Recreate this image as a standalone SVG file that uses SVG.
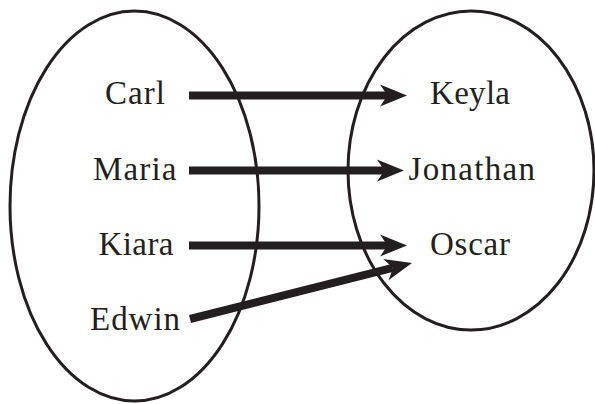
<svg xmlns="http://www.w3.org/2000/svg" width="595" height="404" viewBox="0 0 595 404">
  <style>
    .set { fill: none; stroke: #231f20; stroke-width: 3; }
    .name { font-family: "Liberation Serif", "Times New Roman", serif; font-size: 33px; fill: #231f20; }
    .map { fill: none; stroke: #231f20; stroke-width: 8; stroke-linecap: butt; marker-end: url(#head); }
  </style>
  <defs>
    <!-- arrowhead with a notched back; origin sits at the notch where the shaft ends -->
    <marker id="head" markerUnits="userSpaceOnUse" viewBox="-8 -12 30 24" refX="0" refY="0" markerWidth="30" markerHeight="24" orient="auto" overflow="visible">
      <path d="M20,0 L-7,-11 Q-2,-4 0,0 Q-2,4 -7,11 Z" fill="#231f20"/>
    </marker>
  </defs>
  <rect width="595" height="404" fill="#ffffff"/>

  <!-- domain set -->
  <g id="domain">
    <ellipse class="set" cx="134.5" cy="206" rx="124.5" ry="195"/>
  </g>
  <!-- codomain set -->
  <g id="codomain">
    <ellipse class="set" cx="471" cy="170.5" rx="123" ry="159.5"/>
  </g>

  <g id="carl"><text class="name" x="105" y="104" textLength="60" lengthAdjust="spacing">Carl</text></g>
  <g id="maria"><text class="name" x="93" y="179.5" textLength="83.5" lengthAdjust="spacing">Maria</text></g>
  <g id="kiara"><text class="name" x="98.5" y="254.5" textLength="75" lengthAdjust="spacing">Kiara</text></g>
  <g id="edwin"><text class="name" x="90" y="330" textLength="90" lengthAdjust="spacing">Edwin</text></g>

  <g id="keyla"><text class="name" x="430" y="103.5" textLength="80" lengthAdjust="spacing">Keyla</text></g>
  <g id="jonathan"><text class="name" x="408.5" y="179.5" textLength="126.5" lengthAdjust="spacing">Jonathan</text></g>
  <g id="oscar"><text class="name" x="430" y="254.5" textLength="80" lengthAdjust="spacing">Oscar</text></g>

  <!-- mapping arrows -->
  <g id="connectors">
    <path class="map" d="M189,95.5 L387,95.5"/>
    <path class="map" d="M189,170.5 L384,170.5"/>
    <path class="map" d="M189,245.5 L387,245.5"/>
    <path class="map" d="M190,319 L392.6,267.9"/>
  </g>
</svg>
